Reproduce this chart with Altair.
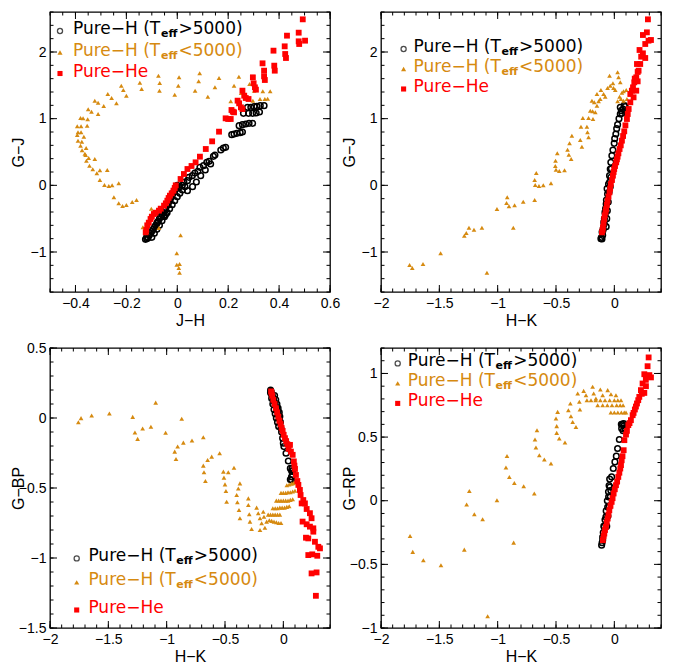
import altair as alt
import pandas as pd

# ---------------- data ----------------
# Top-left: J-H vs G-J
TL_BLACK = [(-0.125,-0.81),(-0.12,-0.80),(-0.115,-0.79),(-0.12,-0.77),(-0.11,-0.75),(-0.105,-0.72),(-0.10,-0.69),(-0.095,-0.66),(-0.09,-0.63),(-0.085,-0.60),
    (-0.08,-0.57),(-0.075,-0.54),(-0.07,-0.50),(-0.065,-0.47),(-0.06,-0.44),(-0.055,-0.41),(-0.05,-0.37),(-0.045,-0.34),(-0.04,-0.30),(-0.035,-0.27),
    (-0.03,-0.23),(-0.025,-0.19),(-0.02,-0.15),(-0.015,-0.11),(-0.01,-0.07),(-0.005,-0.03),(0.0,0.0),
    (-0.10,-0.78),(-0.09,-0.72),(-0.08,-0.66),(-0.07,-0.60),(-0.06,-0.53),(-0.05,-0.47),(-0.04,-0.41),(-0.03,-0.35),(-0.02,-0.29),(-0.01,-0.23),
    (0.0,-0.17),(0.01,-0.12),(0.02,-0.07),(0.03,-0.02),(-0.078,-0.555),(-0.052,-0.455),(-0.046,-0.44),
    (0.007,-0.03),(0.02,0.0),(0.026,0.045),(0.04,0.07),(0.046,0.12),(0.059,0.145),(0.069,0.185),(0.081,0.21),(0.089,0.27),(0.103,0.295),
    (0.116,0.345),(0.125,0.36),(0.142,0.435),(0.148,0.455),(0.171,0.53),(0.181,0.56),(0.19,0.57),
    (0.04,-0.08),(0.06,-0.02),(0.075,0.05),(0.092,0.145),(0.11,0.23),(0.131,0.32),
    (0.214,0.76),(0.223,0.77),(0.234,0.78),(0.247,0.79),(0.256,0.80),(0.243,0.895),(0.256,0.91),(0.269,0.92),(0.282,0.93),(0.296,0.93),
    (0.26,1.08),(0.28,1.08),(0.296,1.08),(0.31,1.085),(0.323,1.10),(0.276,1.17),(0.289,1.17),(0.302,1.18),(0.313,1.185),(0.326,1.195),(0.341,1.195)]
TL_ORANGE = [(-0.074,1.645),(0.007,1.62),(0.088,1.68),(0.164,1.61),(-0.147,1.54),(-0.069,1.535),(0.004,1.495),(0.084,1.56),(0.148,1.47),(-0.22,1.495),
    (-0.212,1.43),(-0.14,1.445),(-0.07,1.42),(-0.01,1.36),(0.07,1.42),(0.12,1.33),(-0.273,1.37),(-0.258,1.31),(-0.2,1.345),(-0.239,1.23),
    (-0.324,1.27),(-0.311,1.24),(-0.289,1.19),(-0.35,1.14),(-0.337,1.105),(-0.311,1.07),(-0.38,1.01),(-0.37,1.005),(-0.352,0.99),(-0.393,0.885),
    (-0.378,0.885),(-0.354,0.895),(-0.39,0.795),(-0.378,0.795),(-0.393,0.755),(-0.367,0.73),(-0.39,0.67),(-0.375,0.655),(-0.38,0.595),(-0.358,0.56),
    (-0.374,0.525),(-0.363,0.475),(-0.36,0.455),(-0.348,0.41),(-0.324,0.395),(-0.357,0.37),(-0.345,0.295),(-0.304,0.225),(-0.275,0.23),(-0.332,0.24),
    (-0.316,0.18),(-0.304,0.08),(-0.286,0.005),(-0.269,-0.01),(-0.256,0.0),(-0.23,0.03),(-0.249,-0.18),(-0.23,-0.27),(-0.215,-0.31),(-0.2,-0.295),
    (-0.177,-0.25),(-0.16,-0.22),(-0.102,-0.35),(-0.135,-0.63),(-0.12,-0.70),(-0.072,-0.64),(0.013,-0.75),(-0.002,-1.02),(-0.002,-1.19),(0.009,-1.18),
    (0.006,-1.24),(0.009,-1.31),(0.21,1.26),(0.223,1.495),(0.242,1.63),(0.251,1.385),(0.284,1.52),(0.297,1.27),(0.302,1.42),(0.325,1.295),
    (0.336,1.41),(0.344,1.295),(0.355,1.30),(0.365,1.41)]
TL_RED = [(-0.124,-0.705),(-0.122,-0.67),(-0.118,-0.60),(-0.112,-0.56),(-0.105,-0.505),(-0.10,-0.47),(-0.092,-0.43),(-0.085,-0.41),(-0.072,-0.38),(-0.065,-0.35),
    (-0.052,-0.305),(-0.045,-0.27),(-0.039,-0.23),(-0.034,-0.19),(-0.029,-0.155),(-0.022,-0.12),(-0.015,-0.08),(-0.01,-0.04),(-0.006,0.0),(0.013,0.095),
    (0.026,0.17),(0.04,0.245),(0.056,0.29),(0.072,0.345),(0.089,0.43),(0.112,0.545),(0.137,0.66),(0.164,0.805),(0.19,1.005),(0.20,0.995),
    (0.21,0.995),(0.213,1.13),(0.218,1.105),(0.223,1.095),(0.237,1.27),(0.243,1.23),(0.25,1.17),(0.256,1.145),(0.256,1.42),(0.263,1.345),
    (0.269,1.31),(0.28,1.295),(0.297,1.62),(0.30,1.53),(0.305,1.47),(0.309,1.435),(0.335,1.83),(0.341,1.72),(0.341,1.635),(0.344,1.58),
    (0.378,2.02),(0.381,1.795),(0.383,1.72),(0.422,2.085),(0.424,1.97),(0.427,1.91),(0.431,2.245),(0.477,2.29),(0.477,2.16),(0.479,2.12),
    (0.502,2.17),(0.493,2.49)]

# Top-right: H-K vs G-J
TR_BLACK = [(-0.106,-0.805),(-0.098,-0.68),(-0.087,-0.58),(-0.078,-0.43),(-0.07,-0.28),(-0.058,-0.13),(-0.05,0.02),(-0.041,0.145),(-0.035,0.245),(-0.03,0.345),
    (-0.021,0.445),(-0.012,0.53),(-0.001,0.63),(0.013,0.77),(0.028,0.91),(0.051,1.07),(0.074,1.145),(0.093,1.18),(0.051,1.17),
    (-0.115,-0.80),(-0.11,-0.78),(-0.10,-0.75),(-0.105,-0.70),(-0.095,-0.65),(-0.09,-0.55),(-0.085,-0.50),(-0.08,-0.40),(-0.075,-0.35),(-0.068,-0.22),
    (-0.062,-0.05),(-0.07,-0.62),(-0.065,-0.50),(-0.06,-0.38),(-0.052,-0.25),(-0.045,-0.10),(-0.04,0.05),(-0.035,-0.02),(-0.03,0.12),(-0.025,0.25),
    (0.003,0.70),(0.02,0.85),(0.04,1.0),(0.06,1.12),(0.085,1.2),(0.065,1.08)]
TR_ORANGE = [(-1.755,-1.195),(-1.732,-1.24),(-1.64,-1.18),(-1.489,-1.02),(-1.286,-0.755),(-1.269,-0.715),(-1.246,-0.635),(-1.203,-0.665),(-1.135,-0.635),(-1.092,-1.31),
    (-1.006,-0.355),(-0.924,-0.265),(-0.918,-0.18),(-0.903,-0.315),(-0.866,-0.635),(-0.855,-0.30),(-0.781,-0.245),(-0.683,-0.22),(-0.683,0.08),(-0.678,0.005),
    (-0.669,0.185),(-0.646,-0.01),(-0.609,0.0),(-0.543,0.03),(-0.504,0.37),(-0.506,0.29),(-0.5,0.235),(-0.489,0.48),(-0.472,0.215),(-0.427,0.225),
    (-0.401,0.535),(-0.384,0.63),(-0.39,0.46),(-0.37,0.395),(-0.364,0.745),(-0.292,0.68),(-0.278,0.58),(-0.286,0.88),(-0.235,0.88),(-0.23,0.795),
    (-0.221,0.72),(-0.27,1.01),(-0.221,1.01),(-0.183,0.995),(-0.206,1.12),(-0.186,1.11),(-0.163,1.095),(-0.192,1.27),(-0.172,1.245),(-0.149,1.195),
    (-0.135,1.26),(-0.121,1.295),(-0.149,1.37),(-0.115,1.43),(-0.092,1.37),(-0.078,1.33),(-0.058,1.46),(-0.035,1.495),(-0.041,1.645),(-0.012,1.53),
    (-0.007,1.46),(0.008,1.43),(0.028,1.695),(0.036,1.62),(0.051,1.545),(0.065,1.39),(0.079,1.41),(0.102,1.43),(0.045,1.33),(0.028,1.26),
    (0.057,1.295),(0.079,1.27),(0.108,1.295)]
TR_RED = [(0.288,2.49),(0.245,2.255),(0.279,2.295),(0.293,2.17),(0.314,2.18),(0.265,2.12),(0.216,2.03),(0.245,1.98),(0.265,1.91),(0.194,1.82),
    (0.222,1.82),(0.208,1.72),(0.188,1.62),(0.171,1.545),(0.2,1.56),(0.16,1.47),(0.188,1.42),(0.137,1.37),(0.165,1.32),(0.137,1.245),
    (0.123,1.145),(0.108,0.995),(0.085,0.81),(0.065,0.67),(0.045,0.545),(0.028,0.43),(0.016,0.345),(-0.001,0.245),(-0.012,0.145),(-0.03,0.02),
    (-0.041,-0.105),(-0.058,-0.23),(-0.07,-0.355),(-0.087,-0.505),(-0.098,-0.63),(-0.106,-0.705),
    (-0.10,-0.67),(-0.092,-0.57),(-0.082,-0.45),(-0.075,-0.40),(-0.064,-0.29),(-0.05,-0.17),(-0.036,-0.05),(-0.02,0.08),(-0.006,0.20),(0.006,0.29),
    (0.022,0.39),(0.035,0.48),(0.055,0.60),(0.075,0.74),(0.095,0.90),(0.115,1.07),(0.15,1.42),(0.175,1.60),(0.20,1.70),(0.23,1.93)]

# Bottom-left: H-K vs G-BP
BL_BLACK = [(-0.109,0.2),(-0.105,0.19),(-0.1,0.17),(-0.095,0.16),(-0.086,0.142),(-0.08,0.12),(-0.07,0.1),(-0.057,0.07),(-0.045,0.035),(-0.034,-0.001),
    (-0.02,-0.073),(-0.006,-0.144),(0.005,-0.204),(0.023,-0.252),(0.043,-0.307),(0.071,-0.378),(0.08,-0.407),(0.071,-0.443),
    (-0.11,0.18),(-0.1,0.14),(-0.09,0.1),(-0.08,0.06),(-0.07,0.03),(-0.06,0.0),(-0.05,-0.03),(-0.04,-0.06),(-0.075,0.16),(-0.065,0.13),
    (-0.055,0.1),(-0.045,0.07),(-0.035,0.04),(-0.03,0.01),(-0.025,-0.03),(-0.015,-0.1),(0.0,-0.18),(0.06,-0.36),(0.08,-0.38),(0.07,-0.42),
    (0.06,-0.44),(0.075,-0.36)]
BL_ORANGE = [(-1.757,-0.03),(-1.734,-0.001),(-1.643,0.018),(-1.491,0.032),(-1.291,0.008),(-1.094,0.11),(-0.871,-0.006),(-1.272,-0.104),(-1.249,-0.149),(-1.206,-0.075),
    (-1.135,-0.063),(-1.009,-0.106),(-0.686,-0.137),(-0.931,-0.24),(-0.92,-0.293),(-0.906,-0.204),(-0.857,-0.176),(-0.783,-0.161),(-0.686,-0.34),(-0.68,-0.388),
    (-0.668,-0.45),(-0.649,-0.3),(-0.614,-0.276),(-0.546,-0.252),(-0.514,-0.383),(-0.509,-0.426),(-0.5,-0.474),(-0.492,-0.522),(-0.486,-0.598),(-0.472,-0.388),
    (-0.423,-0.355),(-0.372,-0.467),(-0.386,-0.503),(-0.4,-0.55),(-0.394,-0.602),(-0.38,-0.657),(-0.372,-0.716),(-0.3,-0.574),(-0.3,-0.621),(-0.292,-0.688),
    (-0.286,-0.74),(-0.272,-0.793),(-0.229,-0.64),(-0.215,-0.68),(-0.2,-0.716),(-0.186,-0.752),(-0.2,-0.8),(-0.158,-0.784),(-0.143,-0.74),(-0.166,-0.705),
    (-0.172,-0.669),
    (0.03,-0.48),(0.05,-0.475),(0.07,-0.47),(0.085,-0.465),(0.1,-0.46),
    (-0.02,-0.535),(0.0,-0.535),(0.02,-0.535),(0.04,-0.53),(0.06,-0.53),(0.08,-0.525),(0.1,-0.52),
    (-0.06,-0.59),(-0.04,-0.59),(-0.02,-0.59),(0.0,-0.59),(0.02,-0.59),(0.04,-0.59),(0.06,-0.585),(0.08,-0.58),
    (-0.09,-0.645),(-0.07,-0.645),(-0.05,-0.645),(-0.03,-0.64),(-0.01,-0.64),(0.01,-0.64),(0.03,-0.635),(0.05,-0.63),
    (-0.13,-0.69),(-0.11,-0.69),(-0.09,-0.69),(-0.07,-0.69),(-0.05,-0.69),(-0.03,-0.69),
    (-0.12,-0.73),(-0.10,-0.735),(-0.08,-0.74),(-0.06,-0.745),(-0.04,-0.75),(-0.02,-0.75)]
BL_RED = [(-0.1,0.178),(-0.086,0.13),(-0.063,0.07),(-0.043,0.01),(-0.023,-0.044),(-0.006,-0.092),(0.014,-0.144),(0.034,-0.187),(0.057,-0.192),(0.08,-0.263),
    (0.1,-0.364),(0.108,-0.407),(0.12,-0.45),(0.129,-0.478),(0.142,-0.514),(0.148,-0.55),(0.171,-0.586),(0.185,-0.61),(0.157,-0.61),(0.2,-0.65),
    (0.228,-0.68),(0.242,-0.716),(0.165,-0.74),(0.2,-0.759),(0.228,-0.776),(0.257,-0.788),(0.257,-0.812),(0.194,-0.855),(0.214,-0.86),(0.271,-0.884),
    (0.3,-0.92),(0.314,-0.931),(0.214,-0.979),(0.248,-0.974),(0.291,-0.984),(0.242,-1.11),(0.285,-1.103),(0.279,-1.27),
    (-0.105,0.19),(-0.095,0.16),(-0.075,0.1),(-0.053,0.04),(-0.033,-0.02),(-0.015,-0.07),(0.003,-0.12),(0.024,-0.165),(0.045,-0.22),(0.065,-0.24),
    (0.09,-0.31),(0.095,-0.34)]

# Bottom-right: H-K vs G-RP
BR_BLACK = [(-0.109,-0.35),(-0.1,-0.285),(-0.086,-0.206),(-0.072,-0.127),(-0.057,-0.049),(-0.049,0.03),(-0.038,0.108),(-0.023,0.187),(-0.009,0.253),(0.005,0.305),
    (0.017,0.35),(0.028,0.41),(0.043,0.481),(0.063,0.568),(0.08,0.607),(0.091,0.56),
    (-0.105,-0.33),(-0.1,-0.31),(-0.095,-0.25),(-0.09,-0.2),(-0.08,-0.15),(-0.07,-0.08),(-0.06,0.0),(-0.05,0.07),(-0.045,0.12),(-0.04,0.17),
    (-0.065,-0.2),(-0.055,-0.12),(-0.045,-0.05),(-0.035,0.03),(-0.03,0.08),(0.07,0.6),(0.085,0.59),(0.075,0.55),(0.06,0.6)]
BR_ORANGE = [(-1.751,-0.277),(-1.728,-0.402),(-1.637,-0.468),(-1.486,-0.507),(-1.286,-0.384),(-1.243,0.077),(-1.266,-0.03),(-1.2,-0.106),(-1.129,-0.145),(-1.086,-0.908),
    (-1.006,0.004),(-0.863,-0.329),(-0.92,0.352),(-0.929,0.261),(-0.9,0.187),(-0.857,0.14),(-0.777,0.114),(-0.686,0.057),(-0.663,0.554),(-0.68,0.481),
    (-0.672,0.418),(-0.643,0.358),(-0.6,0.324),(-0.543,0.292),(-0.486,0.698),(-0.5,0.646),(-0.494,0.586),(-0.494,0.533),(-0.472,0.489),(-0.423,0.458),
    (-0.394,0.711),(-0.377,0.764),(-0.372,0.664),(-0.357,0.619),(-0.329,0.58),(-0.314,0.843),(-0.3,0.777),(-0.295,0.717),(-0.263,0.863),(-0.243,0.829),
    (-0.235,0.79),(-0.186,0.895),(-0.177,0.843),(-0.158,0.803),(-0.12,0.874),(-0.1,0.829),(-0.057,0.869),(-0.029,0.837),(0.014,0.829),
    (-0.2,0.79),(-0.16,0.79),(-0.12,0.79),(-0.08,0.79),(-0.04,0.79),(0.0,0.79),(0.03,0.79),(0.057,0.79),
    (-0.143,0.75),(-0.1,0.75),(-0.06,0.75),(-0.02,0.75),(0.02,0.75),(0.05,0.75),(0.075,0.75),
    (-0.03,0.693),(0.0,0.693),(0.03,0.693),(0.06,0.693),(0.085,0.693),(0.1,0.693)]
BR_RED = [(0.294,1.126),(0.285,1.057),(0.257,0.994),(0.3,0.987),(0.314,0.969),(0.242,0.921),(0.271,0.9),(0.228,0.869),(0.257,0.847),(0.214,0.816),
    (0.194,0.764),(0.176,0.717),(0.157,0.672),(0.142,0.633),(0.12,0.594),(0.108,0.549),(0.086,0.476),(0.08,0.397),(0.063,0.318),(0.051,0.253),
    (0.034,0.187),(0.014,0.122),(-0.006,0.057),(-0.023,-0.009),(-0.043,-0.075),(-0.057,-0.14),(-0.072,-0.206),(-0.086,-0.258),(-0.098,-0.31),
    (-0.092,-0.28),(-0.08,-0.23),(-0.065,-0.17),(-0.05,-0.11),(-0.033,-0.04),(-0.015,0.02),(0.004,0.09),(0.024,0.15),(0.043,0.22),(0.057,0.28),
    (0.07,0.35),(0.1,0.52),(0.13,0.61),(0.165,0.69),(0.185,0.74),(0.205,0.79),(0.235,0.84),(0.27,0.95)]

# axis ticks (major labelled, minor unlabelled)
X_JH_MAJOR = [-0.4, -0.2, 0, 0.2, 0.4, 0.6]
X_JH_MINOR = [round(-0.5 + 0.05 * i, 2) for i in range(23)]
X_HK_MAJOR = [-2, -1.5, -1, -0.5, 0]
X_HK_MINOR = [round(-2 + 0.1 * i, 1) for i in range(25)]
Y_GJ_MAJOR = [-1, 0, 1, 2]
Y_GJ_MINOR = [round(-1.6 + 0.2 * i, 1) for i in range(22)]
Y_BP_MAJOR = [0.5, 0, -0.5, -1, -1.5]
Y_BP_MINOR = [round(-1.5 + 0.1 * i, 1) for i in range(21)]
Y_RP_MAJOR = [1, 0.5, 0, -0.5, -1]
Y_RP_MINOR = [round(-1 + 0.1 * i, 1) for i in range(23)]

LEGEND_MAIN = ["Pure\u2212H (T", "Pure\u2212H (T", "Pure\u2212He"]
LEGEND_TAIL = [">5000)", "<5000)", ""]

# ---------------- style ----------------
AX_FONT = "Liberation Sans"
LEG_FONT = "DejaVu Sans"
ORANGE = "#D68A10"
RED = "#FF0000"
W = 280
H = 280
MAJ = 7
MIN = 3.5


def frame(pairs):
    return pd.DataFrame(pairs, columns=["x", "y"])


def ax(orient, values, title):
    kw = dict(orient=orient, values=values, grid=False, domain=False, ticks=False,
              labels=True, format="~g", labelFont=AX_FONT, labelFontSize=14,
              labelColor="black", labelPadding=4, labelFlush=False, labelOverlap=False,
              title=title, titleFont=AX_FONT, titleFontSize=16, titleFontWeight="normal",
              titleColor="black", titlePadding=2)
    if orient == "left":
        kw.update(titleX=-24, titleY=H / 2)
    return alt.Axis(**kw)


def tick_layers(xs, ys, xmaj, xmin, ymaj, ymin):
    out = []
    for vals, L in ((xmin, MIN), (xmaj, MAJ)):
        d = pd.DataFrame({"v": vals})
        base = alt.Chart(d).mark_rule(color="black", strokeWidth=1)
        out.append(base.encode(x=alt.X("v:Q", scale=xs, axis=None),
                               y=alt.value(H), y2=alt.value(H - L)))
        out.append(base.encode(x=alt.X("v:Q", scale=xs, axis=None),
                               y=alt.value(0), y2=alt.value(L)))
    for vals, L in ((ymin, MIN), (ymaj, MAJ)):
        d = pd.DataFrame({"v": vals})
        base = alt.Chart(d).mark_rule(color="black", strokeWidth=1)
        out.append(base.encode(y=alt.Y("v:Q", scale=ys, axis=None),
                               x=alt.value(0), x2=alt.value(L)))
        out.append(base.encode(y=alt.Y("v:Q", scale=ys, axis=None),
                               x=alt.value(W), x2=alt.value(W - L)))
    return out


def legend(sym_x, txt_x, rows):
    one = pd.DataFrame({"a": [1]})
    layers = []
    colors = ["black", ORANGE, RED]
    shapes = ["circle", "triangle-up", "square"]
    for i in range(3):
        yc = rows[i]
        if i == 0:
            sym = alt.Chart(one).mark_point(shape="circle", filled=False, color="black",
                                            size=26, strokeWidth=1.3)
        else:
            sym = alt.Chart(one).mark_point(shape=shapes[i], filled=True, color=colors[i],
                                            size=26, opacity=1)
        layers.append(sym.encode(x=alt.value(sym_x), y=alt.value(yc + 2)))
        t1 = alt.Chart(one).mark_text(align="left", baseline="middle", font=LEG_FONT,
                                      fontSize=17, color=colors[i]).encode(
            x=alt.value(txt_x), y=alt.value(yc), text=alt.value(LEGEND_MAIN[i]))
        layers.append(t1)
        if LEGEND_TAIL[i]:
            w1 = 5.172 * 17
            t2 = alt.Chart(one).mark_text(align="left", baseline="middle", font=LEG_FONT,
                                          fontSize=11, fontWeight="bold", color=colors[i]).encode(
                x=alt.value(txt_x + w1), y=alt.value(yc + 5), text=alt.value("eff"))
            t3 = alt.Chart(one).mark_text(align="left", baseline="middle", font=LEG_FONT,
                                          fontSize=17, color=colors[i]).encode(
                x=alt.value(txt_x + w1 + 1.548 * 11 + 0.5), y=alt.value(yc),
                text=alt.value(LEGEND_TAIL[i]))
            layers += [t2, t3]
    return layers


def panel(black, orange, red, xdom, ydom, xmaj, xmin, ymaj, ymin, xtitle, ytitle, leg):
    xs = alt.Scale(domain=xdom, nice=False, zero=False)
    ys = alt.Scale(domain=ydom, nice=False, zero=False)
    l1 = alt.Chart(frame(black)).mark_point(shape="circle", filled=False, color="black",
                                            size=32, strokeWidth=1.5, opacity=1).encode(
        x=alt.X("x:Q", scale=xs, axis=ax("bottom", xmaj, xtitle)),
        y=alt.Y("y:Q", scale=ys, axis=ax("left", ymaj, ytitle)))
    l2 = alt.Chart(frame(orange)).mark_point(shape="triangle-up", filled=True, color=ORANGE,
                                             size=22, opacity=1).encode(
        x=alt.X("x:Q", scale=xs, axis=None), y=alt.Y("y:Q", scale=ys, axis=None))
    l3 = alt.Chart(frame(red)).mark_point(shape="square", filled=True, color=RED,
                                          size=34, opacity=1).encode(
        x=alt.X("x:Q", scale=xs, axis=None), y=alt.Y("y:Q", scale=ys, axis=None))
    layers = [l1, l2, l3] + tick_layers(xs, ys, xmaj, xmin, ymaj, ymin) + legend(*leg)
    return alt.layer(*layers).resolve_axis(x="independent", y="independent").properties(
        width=W, height=H)


TL = panel(TL_BLACK, TL_ORANGE, TL_RED, [-0.5, 0.6], [-1.6, 2.6], X_JH_MAJOR, X_JH_MINOR,
           Y_GJ_MAJOR, Y_GJ_MINOR, "J\u2212H", "G\u2212J", (10, 23, [17, 38.5, 59.5]))
TR = panel(TR_BLACK, TR_ORANGE, TR_RED, [-2, 0.4], [-1.6, 2.6], X_HK_MAJOR, X_HK_MINOR,
           Y_GJ_MAJOR, Y_GJ_MINOR, "H\u2212K", "G\u2212J", (22.6, 32.6, [35, 55, 75]))
BL = panel(BL_BLACK, BL_ORANGE, BL_RED, [-2, 0.4], [-1.5, 0.5], X_HK_MAJOR, X_HK_MINOR,
           Y_BP_MAJOR, Y_BP_MINOR, "H\u2212K", "G\u2212BP", (26.7, 38.4, [208.4, 232.4, 260]))
BR = panel(BR_BLACK, BR_ORANGE, BR_RED, [-2, 0.4], [-1, 1.2], X_HK_MAJOR, X_HK_MINOR,
           Y_RP_MAJOR, Y_RP_MINOR, "H\u2212K", "G\u2212RP", (16.7, 26.7, [13.4, 33.4, 53.4]))

chart = alt.concat(TL, TR, BL, BR, columns=2, spacing={"row": 56, "column": 51},
                   bounds="flush").properties(
    padding={"left": 9, "top": 10, "right": 5, "bottom": 5},
    background="white",
).configure_view(stroke="black", strokeWidth=1.3)

chart.save("out.html", embed_options={"renderer": "svg", "actions": False})
